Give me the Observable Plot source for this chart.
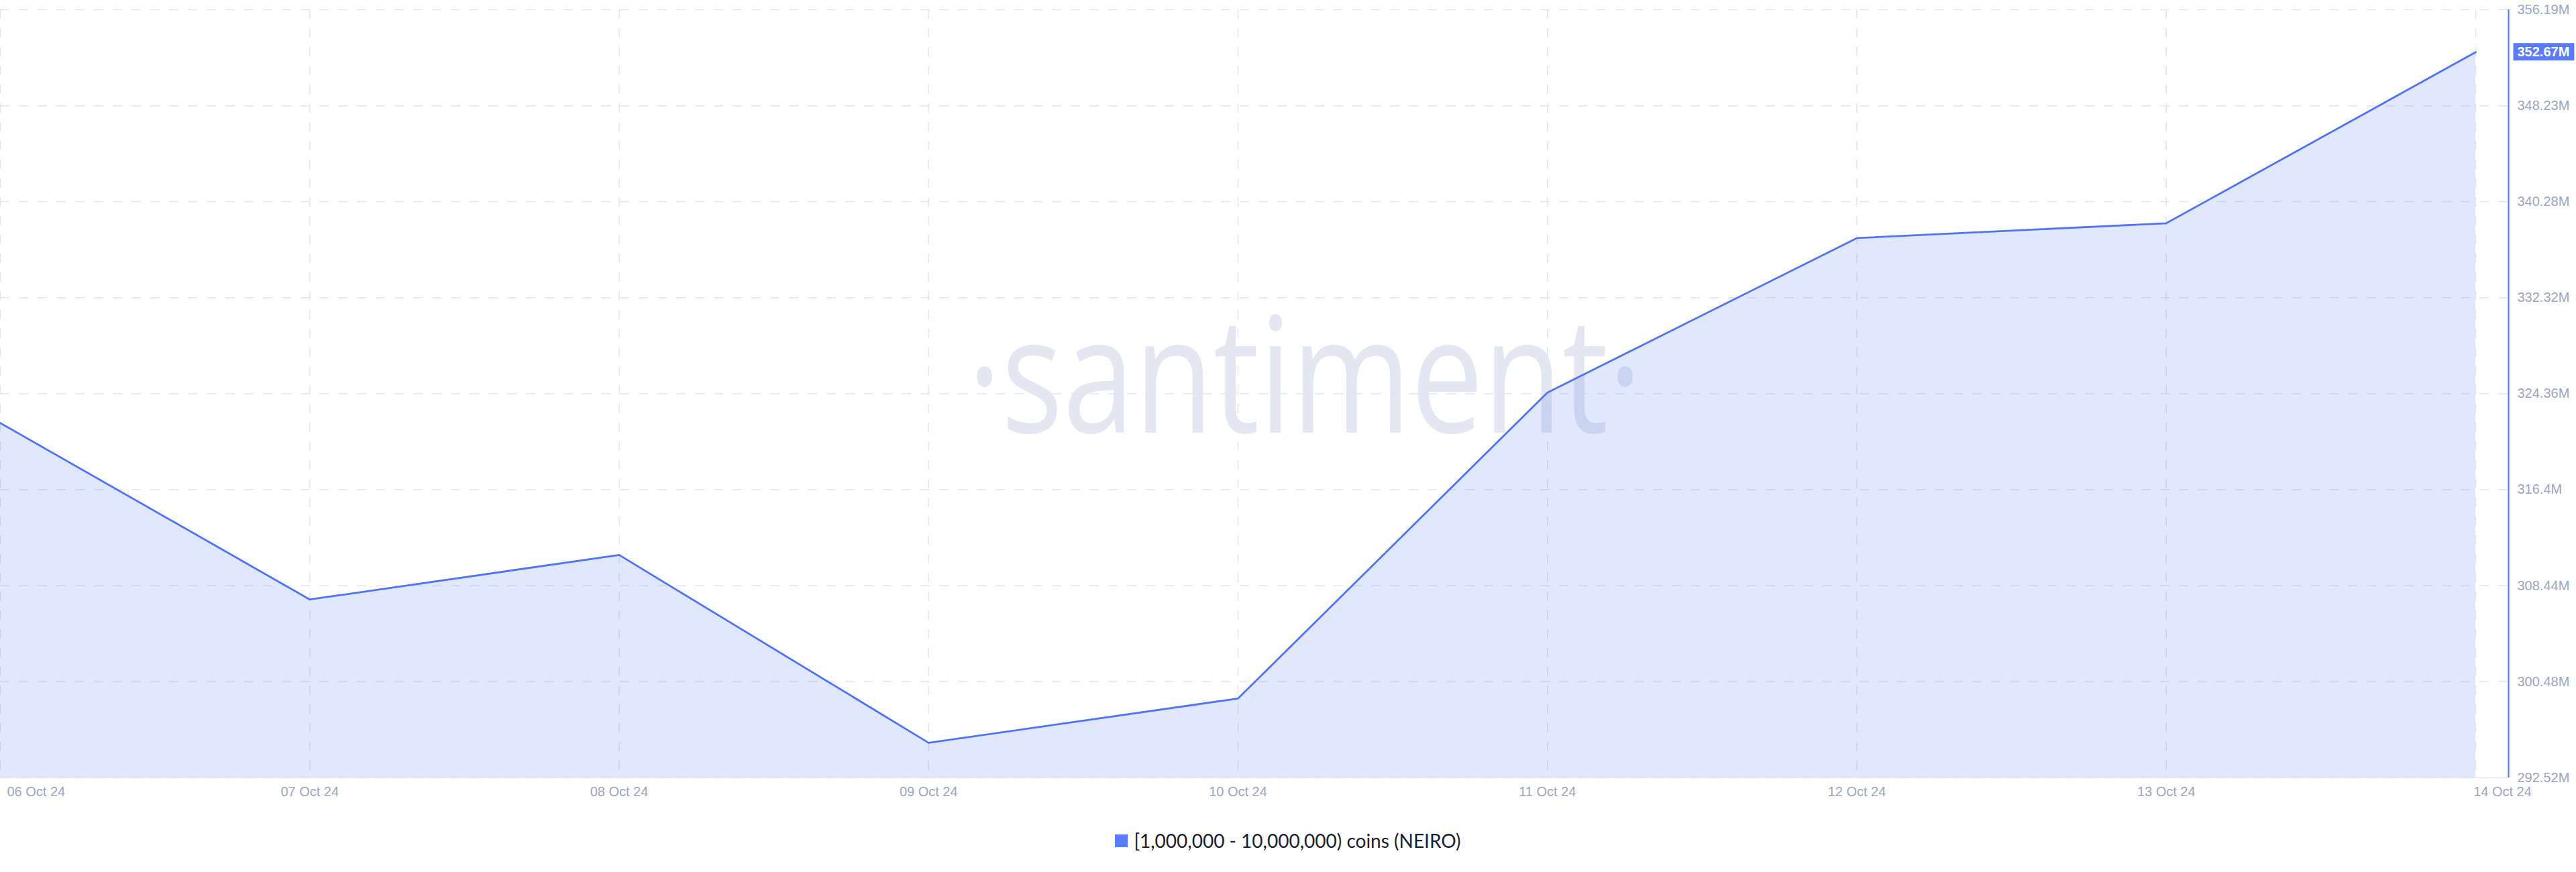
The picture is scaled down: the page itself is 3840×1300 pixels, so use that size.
<!DOCTYPE html>
<html><head><meta charset="utf-8">
<script src="https://cdn.jsdelivr.net/npm/d3@7"></script>
<script src="https://cdn.jsdelivr.net/npm/@observablehq/plot@0.6"></script>
<style>
html,body{margin:0;padding:0;background:#fff;}
#chart svg{display:block;}
#legend{display:flex;justify-content:center;align-items:center;height:40px;margin-top:23px;font-family:Lato,"Noto Sans",sans-serif;font-size:28px;color:#1b1e2d;}
#legend .sw{display:inline-block;width:19px;height:19px;background:#5a7bfb;margin-right:9px;}
</style></head><body>
<div id="chart"></div>
<div id="legend"><span class="sw"></span><span class="lt"></span></div>
<script>
// ---- data (values in millions of NEIRO) ----
const dates = ["2024-10-06","2024-10-07","2024-10-08","2024-10-09","2024-10-10","2024-10-11","2024-10-12","2024-10-13","2024-10-14"];
const holdings = [321.93, 307.3, 310.99, 295.42, 299.09, 324.45, 337.26, 338.49, 352.67];
const yTicks = [292.52, 300.48, 308.44, 316.40, 324.36, 332.32, 340.28, 348.23, 356.19];
const yTickLabels = ["292.52M","300.48M","308.44M","316.4M","324.36M","332.32M","340.28M","348.23M","356.19M"];
const seriesName = "[1,000,000 - 10,000,000) coins (NEIRO)";
const watermark = "·santiment·";
const xDomainEnd = "2024-10-14T02:33:00Z";

const data = dates.map((d, i) => ({date: new Date(d + "T00:00:00Z"), value: holdings[i]}));
const xEnd = new Date(xDomainEnd);
const last = data[data.length - 1];
const fmtDate = d3.utcFormat("%d %b %y");
const blue = "#5074f6";
const gridColor = "#e1e5ef";

const plot = Plot.plot({
  width: 3840,
  height: 1210,
  marginTop: 14,
  marginBottom: 51,
  marginLeft: 0,
  marginRight: 101,
  style: {fontFamily: "'Liberation Sans', Arial, sans-serif", fontSize: "20px", color: "#9da6c0", background: "#fff"},
  x: {type: "utc", domain: [data[0].date, xEnd]},
  y: {domain: [yTicks[0], yTicks[yTicks.length - 1]]},
  marks: [
    Plot.text([watermark], {frameAnchor: "middle", text: d => d, fontSize: 240, fontFamily: "'Open Sans'", fill: "#e4e7f1", dx: 75, dy: -19, className: "wm"}),
    Plot.gridY(yTicks, {stroke: gridColor, strokeOpacity: 1, strokeWidth: 1.5, strokeDasharray: "14,14"}),
    Plot.gridX(data.map(d => d.date), {stroke: gridColor, strokeOpacity: 1, strokeWidth: 1.5, strokeDasharray: "14,14"}),
    Plot.ruleY([yTicks[0]], {stroke: "#e6e9f1", strokeWidth: 1.5}),
    Plot.areaY(data, {x: "date", y1: yTicks[0], y2: "value", fill: blue, fillOpacity: 0.17}),
    Plot.lineY(data, {x: "date", y: "value", stroke: blue, strokeWidth: 2.8}),
    Plot.ruleX([xEnd], {stroke: blue, strokeWidth: 2}),
    Plot.axisY(yTicks, {anchor: "right", tickSize: 0, tickPadding: 13, textAnchor: "start", tickFormat: d => yTickLabels[yTicks.indexOf(d)], label: null, fill: "#9da6c0"}),
    Plot.axisX([data[0].date], {tickSize: 0, tickPadding: 13, textAnchor: "start", dx: 10, tickFormat: fmtDate, label: null, fill: "#9da6c0"}),
    Plot.axisX(data.slice(1, -1).map(d => d.date), {tickSize: 0, tickPadding: 13, tickFormat: fmtDate, label: null, fill: "#9da6c0"}),
    Plot.axisX([last.date], {tickSize: 0, tickPadding: 13, dx: 40, tickFormat: fmtDate, label: null, fill: "#9da6c0"}),
    Plot.text([last], {x: () => xEnd, y: "value", text: d => d.value.toFixed(2) + "M", dx: 13, textAnchor: "start", fill: "#fff", fontSize: 20, fontWeight: 600, className: "lastlbl"})
  ]
});
document.getElementById("chart").append(plot);
document.querySelector("#legend .lt").textContent = seriesName;

// condense the watermark glyphs
plot.querySelectorAll("g.wm text").forEach(t => {
  const tr = t.getAttribute("transform") || "";
  t.setAttribute("transform", tr + " scale(0.8,1)");
});
// badge behind last value label
plot.querySelectorAll("g.lastlbl text").forEach(t => {
  const bb = t.getBBox();
  const r = document.createElementNS("http://www.w3.org/2000/svg", "rect");
  r.setAttribute("x", bb.x - 6);
  r.setAttribute("y", bb.y + bb.height / 2 - 13);
  r.setAttribute("width", bb.width + 13);
  r.setAttribute("height", 26);
  r.setAttribute("fill", "#5a7bfb");
  const tr = t.getAttribute("transform");
  if (tr) r.setAttribute("transform", tr);
  t.parentNode.insertBefore(r, t);
});
</script>
</body></html>
